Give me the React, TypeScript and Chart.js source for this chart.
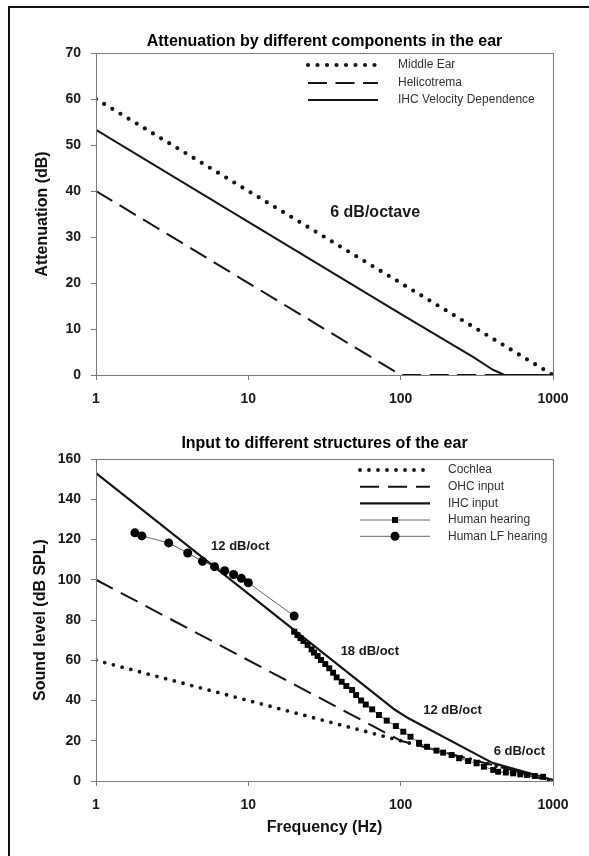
import React, { useEffect, useRef } from "react";
import { Chart, registerables } from "chart.js";

Chart.register(...registerables);

const FONT = "'Liberation Sans', Arial, Helvetica, sans-serif";
const AXIS = "#7a7a7a";
const INK = "#151515";

// ---------- shared ----------
const xTickValues = [1, 10, 100, 1000];

// ---------- top chart data ----------
const topTitle = "Attenuation by different components in the ear";
const topYTitle = "Attenuation (dB)";
const topYTicks = [0, 10, 20, 30, 40, 50, 60, 70];
const topLegend = ["Middle Ear", "Helicotrema", "IHC Velocity Dependence"];

const middleEarFreq = [1, 1000];
const middleEarDb = [60, 0];

const helicotremaFreq = [1, 100, 1000];
const helicotremaDb = [40, 0, 0];

const ihcVelFreq = [1, 10, 100, 300, 400, 480, 1000];
const ihcVelDb = [53.3, 33.3, 13.3, 3.9, 1.2, 0, 0];

const topNoteText = ["6 dB/octave"];
const topNoteFreq = [68];
const topNoteDb = [35.2];

// ---------- bottom chart data ----------
const botTitle = "Input to different structures of the ear";
const botYTitle = "Sound level (dB SPL)";
const botXTitle = "Frequency (Hz)";
const botYTicks = [0, 20, 40, 60, 80, 100, 120, 140, 160];
const botLegend = ["Cochlea", "OHC input", "IHC input", "Human hearing", "Human LF hearing"];

const cochleaFreq = [1, 1000];
const cochleaDb = [60, 0];

const ohcFreq = [1, 100, 1000];
const ohcDb = [100, 20, 0];

const ihcInFreq = [1, 90, 110, 400, 1000];
const ihcInDb = [153, 35.8, 31.6, 9, 0.5];

const humanFreq = [
  20, 21, 22, 23, 24.5, 26, 27, 28.5, 30, 32, 34, 36, 38, 41, 44, 48, 51, 55, 59,
  65, 72, 81, 93, 104, 116, 132, 149, 172, 190, 216, 242, 277, 315, 352, 405, 436,
  490, 547, 610, 676, 760, 861,
];
const humanDb = [
  74.2, 72.5, 71, 69.6, 67.6, 65.4, 63.8, 62.1, 60.1, 58.1, 56, 53.8, 51.5, 49.3,
  47.2, 45.2, 42.7, 40, 38, 35.6, 32.8, 30, 27.3, 24.5, 22, 19, 17, 15.1, 14.1,
  12.9, 11.3, 9.9, 8.8, 7.1, 5.5, 4.6, 4.2, 3.8, 3.3, 3.0, 2.5, 2.1,
];

const humanLfFreq = [1.8, 2, 3, 4, 5, 6, 7, 8, 9, 10, 20];
const humanLfDb = [123.3, 121.8, 118.3, 113.3, 109.2, 106.5, 104.5, 102.6, 100.7, 98.5, 82];

const botNoteText = ["12 dB/oct", "18 dB/oct", "12 dB/oct", "6 dB/oct"];
const botNoteFreq = [8.86, 62.8, 219, 601];
const botNoteDb = [116.4, 64.2, 35.3, 14.9];

// ---------- styles ----------
type LineStyle = {
  width: number;
  dash: number[];
  cap: CanvasLineCap;
  color: string;
  marker?: "rect" | "circle";
  markerR?: number;
};

const topStyles: LineStyle[] = [
  { width: 4.2, dash: [0, 9.5], cap: "round", color: INK },
  { width: 2, dash: [19, 8.5], cap: "butt", color: INK },
  { width: 2, dash: [], cap: "butt", color: INK },
];

const botStyles: LineStyle[] = [
  { width: 3.8, dash: [0, 9], cap: "round", color: INK },
  { width: 2, dash: [19, 9], cap: "butt", color: INK },
  { width: 2.2, dash: [], cap: "butt", color: INK },
  { width: 1, dash: [], cap: "butt", color: "#666", marker: "rect", markerR: 4.2 },
  { width: 1, dash: [], cap: "butt", color: "#666", marker: "circle", markerR: 4.5 },
];

const pts = (xs: number[], ys: number[]) => xs.map((x, i) => ({ x, y: ys[i] }));

function ds(label: string, xs: number[], ys: number[], st: LineStyle, order: number) {
  return {
    label,
    data: pts(xs, ys),
    borderColor: st.color,
    borderWidth: st.width,
    borderDash: st.dash,
    borderCapStyle: st.cap,
    borderJoinStyle: "round",
    pointRadius: st.marker ? st.markerR : 0,
    pointHoverRadius: st.marker ? st.markerR : 0,
    pointStyle: st.marker ?? "circle",
    pointBackgroundColor: "#000",
    pointBorderColor: "#000",
    pointBorderWidth: 0,
    tension: 0,
    fill: false,
    order,
  };
}

function makeScales(yMax: number, yTicks: number[], xHeight: number) {
  const tickFont = { family: FONT, size: 14, weight: "bold" as const };
  const grid = { drawOnChartArea: false, drawTicks: true, tickLength: 5, color: AXIS, lineWidth: 1 };
  const border = { display: true, color: AXIS, width: 1 };
  return {
    x: {
      type: "logarithmic" as const,
      min: 1,
      max: 1000,
      afterBuildTicks: (s: any) => {
        s.ticks = xTickValues.map((v) => ({ value: v }));
      },
      afterFit: (s: any) => {
        s.height = xHeight;
      },
      ticks: {
        callback: (v: any) => String(v),
        font: tickFont,
        color: "#1a1a1a",
        padding: 11,
        maxRotation: 0,
        autoSkip: false,
      },
      grid,
      border,
    },
    y: {
      type: "linear" as const,
      min: 0,
      max: yMax,
      afterBuildTicks: (s: any) => {
        s.ticks = yTicks.map((v) => ({ value: v }));
      },
      afterFit: (s: any) => {
        s.width = 96;
      },
      ticks: {
        callback: (v: any) => String(v),
        font: tickFont,
        color: "#1a1a1a",
        padding: 10,
        autoSkip: false,
      },
      grid,
      border,
    },
  };
}

type Overlay = {
  title: string;
  titleOffset: number;
  yTitle: string;
  yTitleX: number;
  xTitle?: string;
  xTitleY?: number;
  legend: string[];
  legendStyles: LineStyle[];
  legendRows: number[];
  legendX0: number;
  legendX1: number;
  legendTextX: number;
  notes: string[];
  noteX: number[];
  noteY: number[];
  noteSize: number;
};

function overlayPlugin(o: Overlay) {
  return {
    id: "overlay",
    afterDraw(chart: any) {
      const { ctx, chartArea: a } = chart;
      const xs = chart.scales.x;
      const ys = chart.scales.y;
      ctx.save();
      // plot box
      ctx.strokeStyle = AXIS;
      ctx.lineWidth = 1;
      ctx.setLineDash([]);
      ctx.strokeRect(Math.round(a.left) + 0.5, Math.round(a.top) + 0.5, Math.round(a.right - a.left), Math.round(a.bottom - a.top));

      const cx = (a.left + a.right) / 2;
      // title
      ctx.fillStyle = "#000";
      ctx.font = `bold 16px ${FONT}`;
      ctx.textAlign = "center";
      ctx.textBaseline = "alphabetic";
      ctx.fillText(o.title, cx, a.top - o.titleOffset);

      // y title
      ctx.save();
      ctx.translate(o.yTitleX, (a.top + a.bottom) / 2);
      ctx.rotate(-Math.PI / 2);
      ctx.textBaseline = "middle";
      ctx.fillStyle = "#111";
      ctx.fillText(o.yTitle, 0, 0);
      ctx.restore();

      // x title
      if (o.xTitle && o.xTitleY) {
        ctx.textBaseline = "middle";
        ctx.fillStyle = "#111";
        ctx.fillText(o.xTitle, cx, o.xTitleY);
      }

      // notes
      ctx.font = `bold ${o.noteSize}px ${FONT}`;
      ctx.fillStyle = "#1a1a1a";
      ctx.textBaseline = "middle";
      ctx.textAlign = "center";
      o.notes.forEach((t, i) => {
        ctx.fillText(t, xs.getPixelForValue(o.noteX[i]), ys.getPixelForValue(o.noteY[i]));
      });

      // legend
      o.legend.forEach((label, i) => {
        const st = o.legendStyles[i];
        const y = o.legendRows[i];
        ctx.beginPath();
        ctx.strokeStyle = st.color;
        ctx.lineWidth = st.width;
        ctx.lineCap = st.cap;
        ctx.setLineDash(st.dash);
        ctx.moveTo(o.legendX0, y);
        ctx.lineTo(o.legendX1, y);
        ctx.stroke();
        ctx.setLineDash([]);
        if (st.marker) {
          const mx = (o.legendX0 + o.legendX1) / 2;
          ctx.fillStyle = "#000";
          ctx.beginPath();
          if (st.marker === "rect") {
            const s = (st.markerR ?? 3) * Math.SQRT1_2;
            ctx.rect(mx - s, y - s, 2 * s, 2 * s);
          } else {
            ctx.arc(mx, y, st.markerR ?? 4, 0, Math.PI * 2);
          }
          ctx.fill();
        }
        ctx.font = `12px ${FONT}`;
        ctx.fillStyle = "#333";
        ctx.textAlign = "left";
        ctx.textBaseline = "middle";
        ctx.fillText(label, o.legendTextX, y);
      });
      ctx.restore();
    },
  };
}

export default function App() {
  const topRef = useRef<HTMLCanvasElement | null>(null);
  const botRef = useRef<HTMLCanvasElement | null>(null);

  useEffect(() => {
    if (!topRef.current || !botRef.current) return;

    const top = new Chart(topRef.current, {
      type: "line",
      data: {
        datasets: [
          ds(topLegend[0], middleEarFreq, middleEarDb, topStyles[0], 3),
          ds(topLegend[1], helicotremaFreq, helicotremaDb, topStyles[1], 2),
          ds(topLegend[2], ihcVelFreq, ihcVelDb, topStyles[2], 1),
        ] as any,
      },
      options: {
        responsive: false,
        animation: false,
        devicePixelRatio: 1,
        layout: { padding: { top: 53, right: 36, bottom: 0, left: 0 } },
        plugins: { legend: { display: false }, tooltip: { enabled: false }, title: { display: false } },
        scales: makeScales(70, topYTicks, 45) as any,
        events: [],
      },
      plugins: [
        overlayPlugin({
          title: topTitle,
          titleOffset: 7.5,
          yTitle: topYTitle,
          yTitleX: 43,
          legend: topLegend,
          legendStyles: topStyles,
          legendRows: [65, 83, 100],
          legendX0: 308,
          legendX1: 378,
          legendTextX: 398,
          notes: topNoteText,
          noteX: topNoteFreq,
          noteY: topNoteDb,
          noteSize: 16,
        }),
      ],
    });

    const bot = new Chart(botRef.current, {
      type: "line",
      data: {
        datasets: [
          ds(botLegend[0], cochleaFreq, cochleaDb, botStyles[0], 5),
          ds(botLegend[1], ohcFreq, ohcDb, botStyles[1], 4),
          ds(botLegend[2], ihcInFreq, ihcInDb, botStyles[2], 3),
          ds(botLegend[3], humanFreq, humanDb, botStyles[3], 1),
          ds(botLegend[4], humanLfFreq, humanLfDb, botStyles[4], 2),
        ] as any,
      },
      options: {
        responsive: false,
        animation: false,
        devicePixelRatio: 1,
        layout: { padding: { top: 39, right: 36, bottom: 0, left: 0 } },
        plugins: { legend: { display: false }, tooltip: { enabled: false }, title: { display: false } },
        scales: makeScales(160, botYTicks, 75) as any,
        events: [],
      },
      plugins: [
        overlayPlugin({
          title: botTitle,
          titleOffset: 10.7,
          yTitle: botYTitle,
          yTitleX: 41,
          xTitle: botXTitle,
          xTitleY: 408,
          legend: botLegend,
          legendStyles: botStyles,
          legendRows: [50, 66.7, 83.3, 100, 116.3],
          legendX0: 360,
          legendX1: 430,
          legendTextX: 448,
          notes: botNoteText,
          noteX: botNoteFreq,
          noteY: botNoteDb,
          noteSize: 13,
        }),
      ],
    });

    return () => {
      top.destroy();
      bot.destroy();
    };
  }, []);

  return (
    <div
      style={{
        position: "fixed",
        left: 0,
        top: 0,
        width: 589,
        height: 856,
        background: "#fff",
        overflow: "hidden",
      }}
    >
      <div
        style={{
          position: "absolute",
          left: 8,
          top: 6,
          width: 600,
          height: 900,
          borderLeft: "2px solid #111",
          borderTop: "2px solid #111",
          boxSizing: "border-box",
        }}
      />
      <canvas
        ref={topRef}
        width={589}
        height={420}
        style={{ position: "absolute", left: 0, top: 0, width: 589, height: 420, display: "block" }}
      />
      <canvas
        ref={botRef}
        width={589}
        height={436}
        style={{ position: "absolute", left: 0, top: 420, width: 589, height: 436, display: "block" }}
      />
    </div>
  );
}
